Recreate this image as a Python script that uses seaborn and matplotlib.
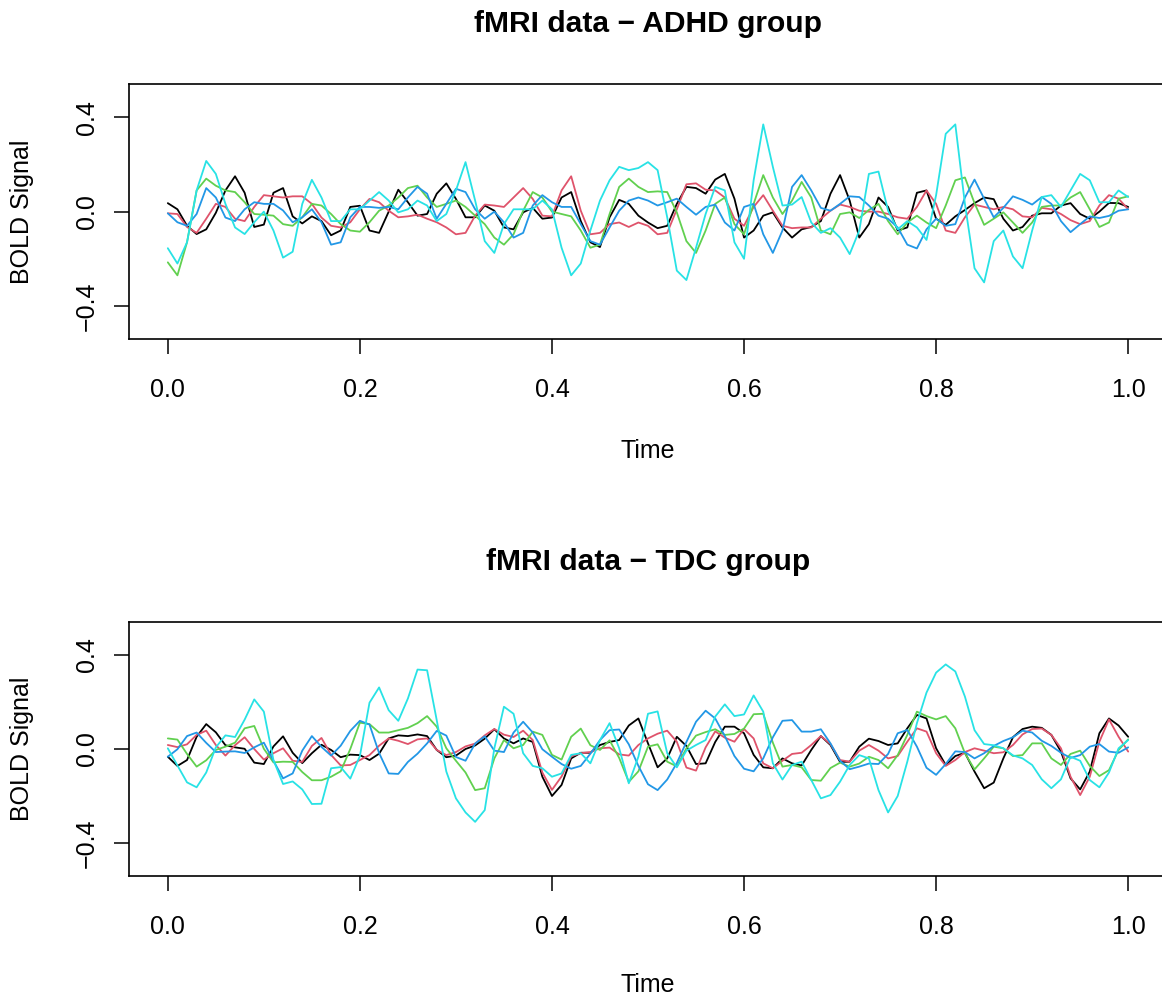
import numpy as np
import pandas as pd
import matplotlib
matplotlib.use("Agg")
import matplotlib.pyplot as plt
import seaborn as sns

# time grid shared by every curve
time = np.round(np.arange(0, 101) * 0.01, 2)

series_names = ["s1", "s2", "s3", "s4", "s5"]
line_colors = ["#000000", "#DF536B", "#61D04F", "#2297E6", "#28E2E5"]

# ADHD group
adhd_s1 = [0.036, 0.01, -0.06, -0.095, -0.075, -0.005, 0.09, 0.15, 0.08, -0.065, -0.055, 0.08, 0.10, -0.02, -0.05, -0.02, -0.04, -0.10, -0.08, 0.02, 0.025,
           -0.08, -0.09, 0.0, 0.093, 0.04, -0.017, -0.01, 0.076, 0.12, 0.054, -0.024, -0.024, 0.026, 0.004, -0.067, -0.075, -0.003, 0.016, -0.03, -0.025,
           0.06, 0.083, -0.04, -0.13, -0.15, -0.024, 0.05, 0.033, -0.017, -0.046, -0.07, -0.06, 0.033, 0.105, 0.1, 0.076, 0.136, 0.16, 0.055,
           -0.11, -0.08, -0.017, -0.003, -0.067, -0.11, -0.075, -0.065, -0.04, 0.076, 0.155, 0.047, -0.11, -0.053, 0.06, 0.02, -0.08, -0.067, 0.08, 0.09,
           -0.03, -0.056, -0.02, 0.007, 0.036, 0.06, 0.053, -0.03, -0.08, -0.065, -0.017, -0.007, -0.007, 0.026, 0.036, -0.01, -0.03, 0.0, 0.037, 0.036, 0.02]
adhd_s2 = [-0.007, -0.01, -0.065, -0.09, -0.03, 0.033, 0.02, -0.03, -0.04, 0.02, 0.07, 0.065, 0.06, 0.065, 0.065, 0.033, -0.025, -0.06, -0.067, -0.045, 0.01,
           0.054, 0.04, 0.004, -0.024, -0.02, -0.013, -0.03, -0.045, -0.067, -0.096, -0.09, -0.017, 0.03, 0.026, 0.02, 0.06, 0.1, 0.054, -0.017, -0.02,
           0.09, 0.15, 0.004, -0.096, -0.09, -0.053, -0.046, -0.065, -0.046, -0.06, -0.096, -0.09, 0.01, 0.116, 0.12, 0.093, 0.09, 0.06, -0.03,
           -0.06, 0.02, 0.07, 0.004, -0.06, -0.07, -0.067, -0.067, -0.03, 0.004, 0.03, 0.02, 0.004, 0.0, 0.0, -0.01, -0.024, -0.03, 0.02, 0.09,
           0.033, -0.08, -0.09, -0.024, 0.03, 0.02, 0.01, 0.02, 0.01, -0.02, -0.024, 0.016, 0.01, -0.01, -0.036, -0.053, -0.04, 0.026, 0.07, 0.055, 0.01]
adhd_s3 = [-0.215, -0.27, -0.13, 0.09, 0.14, 0.11, 0.09, 0.083, 0.04, -0.01, -0.013, -0.017, -0.053, -0.06, -0.024, 0.033, 0.026, -0.01, -0.053, -0.08, -0.085,
           -0.045, 0.004, 0.026, 0.06, 0.1, 0.11, 0.06, 0.02, 0.033, 0.047, 0.02, -0.017, -0.053, -0.11, -0.14, -0.096, 0.004, 0.083, 0.06, 0.0,
           -0.01, -0.02, -0.08, -0.153, -0.14, -0.01, 0.105, 0.14, 0.105, 0.083, 0.086, 0.083, -0.003, -0.125, -0.175, -0.08, 0.033, 0.06, -0.053,
           -0.096, 0.033, 0.155, 0.06, -0.01, 0.047, 0.126, 0.06, -0.08, -0.096, -0.01, -0.003, -0.027, 0.007, 0.033, -0.04, -0.096, -0.046, -0.017, -0.046,
           -0.07, 0.026, 0.133, 0.145, 0.036, -0.056, -0.03, -0.003, -0.046, -0.09, -0.046, 0.02, 0.026, 0.026, 0.06, 0.083, 0.01, -0.065, -0.046, 0.055, 0.065]
adhd_s4 = [-0.007, -0.045, -0.06, -0.01, 0.10, 0.06, -0.025, -0.04, 0.01, 0.04, 0.033, 0.033, 0.005, -0.045, -0.024, 0.01, -0.045, -0.14, -0.13, -0.024, 0.02,
           0.02, 0.016, 0.02, 0.01, 0.06, 0.105, 0.076, -0.03, 0.033, 0.097, 0.083, 0.01, -0.03, 0.0, -0.045, -0.11, -0.09, 0.026, 0.07, 0.04,
           0.02, 0.02, -0.053, -0.125, -0.14, -0.067, 0.004, 0.047, 0.06, 0.047, 0.026, 0.04, 0.055, 0.02, -0.013, 0.02, 0.03, -0.046, -0.08,
           0.02, 0.033, -0.096, -0.175, -0.08, 0.105, 0.155, 0.09, 0.016, 0.004, 0.033, 0.065, 0.062, 0.026, -0.017, -0.03, -0.067, -0.14, -0.156, -0.075,
           -0.03, -0.06, -0.053, 0.06, 0.136, 0.055, -0.024, 0.016, 0.065, 0.05, 0.03, 0.062, 0.033, -0.04, -0.087, -0.053, -0.02, -0.027, -0.018, 0.004, 0.01]
adhd_s5 = [-0.155, -0.22, -0.13, 0.09, 0.215, 0.16, 0.033, -0.067, -0.095, -0.045, 0.0, -0.08, -0.195, -0.17, 0.033, 0.135, 0.06, -0.04, -0.04, 0.01, 0.01,
           0.047, 0.083, 0.047, -0.003, 0.01, 0.047, 0.026, -0.04, -0.01, 0.09, 0.21, 0.047, -0.125, -0.175, -0.053, 0.01, 0.01, 0.01, 0.047, 0.01,
           -0.153, -0.27, -0.22, -0.08, 0.047, 0.133, 0.19, 0.176, 0.185, 0.21, 0.176, -0.024, -0.25, -0.29, -0.153, -0.01, 0.105, 0.09, -0.13,
           -0.2, 0.133, 0.37, 0.19, 0.026, 0.03, 0.062, -0.046, -0.09, -0.07, -0.11, -0.18, -0.08, 0.16, 0.17, 0.004, -0.075, -0.04, -0.067, -0.12,
           0.07, 0.33, 0.37, 0.033, -0.24, -0.3, -0.125, -0.08, -0.19, -0.24, -0.08, 0.062, 0.07, 0.02, 0.09, 0.16, 0.133, 0.04, 0.04, 0.09, 0.062]

# TDC group
tdc_s1 = [-0.033, -0.072, -0.047, 0.052, 0.106, 0.071, 0.016, 0.007, 0.001, -0.058, -0.064, 0.011, 0.054, -0.016, -0.06, -0.018, 0.018, -0.004, -0.035, -0.024, -0.026,
          -0.047, -0.02, 0.045, 0.058, 0.055, 0.062, 0.055, -0.004, -0.035, -0.028, 0.0, 0.015, 0.044, 0.084, 0.045, 0.024, 0.045, 0.03, -0.118, -0.2,
          -0.153, -0.04, -0.016, -0.016, 0.017, 0.03, 0.038, 0.1, 0.13, 0.024, -0.078, -0.04, 0.052, 0.013, -0.064, -0.061, 0.03, 0.095, 0.095,
          0.067, -0.025, -0.078, -0.082, -0.04, -0.061, -0.07, -0.004, 0.055, 0.017, -0.055, -0.054, 0.01, 0.044, 0.034, 0.017, 0.024, 0.088, 0.145, 0.13,
          0.003, -0.068, -0.03, -0.016, -0.096, -0.167, -0.143, -0.04, 0.05, 0.085, 0.095, 0.09, 0.06, -0.011, -0.125, -0.172, -0.096, 0.067, 0.13, 0.1, 0.052]
tdc_s2 = [0.017, 0.008, 0.02, 0.06, 0.078, 0.017, -0.028, 0.016, 0.05, 0.0, -0.045, -0.018, 0.003, -0.05, -0.055, 0.013, 0.047, -0.025, -0.07, -0.068, -0.047,
          -0.026, 0.014, 0.045, 0.035, 0.021, 0.041, 0.045, -0.004, -0.026, -0.013, 0.011, 0.023, 0.058, 0.085, 0.061, 0.051, 0.078, 0.038, -0.1, -0.174,
          -0.117, -0.031, -0.018, -0.013, 0.003, 0.006, -0.023, -0.028, 0.017, 0.045, 0.065, 0.078, 0.031, -0.079, -0.092, 0.007, 0.075, 0.048, 0.031,
          0.085, 0.045, -0.061, -0.082, -0.05, -0.021, -0.016, 0.017, 0.055, 0.021, -0.047, -0.054, -0.007, 0.017, -0.007, -0.04, -0.03, 0.031, 0.088, 0.074,
          -0.018, -0.072, -0.047, -0.013, 0.003, -0.007, -0.018, -0.014, 0.017, 0.062, 0.085, 0.087, 0.06, 0.003, -0.118, -0.196, -0.118, 0.031, 0.126, 0.052, -0.011]
tdc_s3 = [0.045, 0.04, -0.021, -0.075, -0.048, -0.004, 0.01, 0.027, 0.088, 0.098, 0.001, -0.057, -0.054, -0.055, -0.098, -0.133, -0.133, -0.118, -0.095, 0.0, 0.112,
          0.106, 0.07, 0.07, 0.08, 0.09, 0.11, 0.14, 0.095, 0.003, -0.05, -0.1, -0.175, -0.167, -0.04, 0.038, 0.003, 0.017, 0.074, 0.06, -0.025,
          -0.045, 0.052, 0.087, 0.016, -0.004, 0.037, -0.038, -0.14, -0.095, 0.01, 0.02, -0.054, -0.074, 0.003, 0.057, 0.072, 0.084, 0.06, 0.064,
          0.087, 0.148, 0.15, 0.027, -0.075, -0.068, -0.078, -0.132, -0.135, -0.081, -0.058, -0.075, -0.062, -0.033, -0.047, -0.082, -0.026, 0.06, 0.159, 0.14,
          0.126, 0.14, 0.088, -0.018, -0.087, -0.04, 0.01, 0.003, -0.03, -0.026, 0.024, 0.024, -0.04, -0.068, -0.021, -0.007, -0.072, -0.115, -0.09, -0.004, 0.041]
tdc_s4 = [-0.033, -0.001, 0.055, 0.07, 0.026, -0.013, -0.011, -0.01, -0.017, 0.007, 0.027, -0.05, -0.125, -0.104, -0.007, 0.055, 0.009, -0.028, 0.014, 0.077, 0.12,
          0.104, -0.017, -0.104, -0.106, -0.055, -0.02, 0.024, 0.077, 0.057, -0.034, -0.05, 0.023, 0.054, -0.007, -0.013, 0.07, 0.116, 0.07, -0.001, -0.033,
          -0.064, -0.084, -0.072, -0.02, 0.038, 0.08, 0.083, 0.02, -0.072, -0.15, -0.175, -0.13, -0.06, 0.03, 0.116, 0.163, 0.13, 0.055, -0.03,
          -0.084, -0.095, -0.04, 0.05, 0.12, 0.123, 0.074, 0.074, 0.084, 0.024, -0.05, -0.086, -0.075, -0.062, -0.064, -0.021, 0.067, 0.081, 0.01, -0.08,
          -0.11, -0.064, -0.01, -0.013, -0.04, -0.018, 0.013, 0.034, 0.05, 0.078, 0.07, 0.035, 0.013, -0.016, -0.038, -0.026, 0.01, 0.021, -0.011, -0.016, 0.007]
tdc_s5 = [0.003, -0.07, -0.142, -0.163, -0.1, 0.007, 0.058, 0.051, 0.125, 0.211, 0.159, -0.047, -0.149, -0.138, -0.172, -0.234, -0.233, -0.082, -0.077, -0.126, -0.03,
          0.197, 0.262, 0.165, 0.12, 0.215, 0.338, 0.335, 0.123, -0.096, -0.21, -0.27, -0.31, -0.26, 0.003, 0.18, 0.15, -0.018, -0.072, -0.082, -0.118,
          -0.104, -0.025, -0.018, -0.061, 0.038, 0.11, 0.003, -0.146, -0.033, 0.15, 0.16, -0.018, -0.078, -0.007, 0.017, 0.038, 0.138, 0.19, 0.14,
          0.147, 0.228, 0.159, -0.061, -0.13, -0.068, -0.054, -0.132, -0.21, -0.196, -0.139, -0.068, -0.026, -0.04, -0.175, -0.27, -0.2, -0.054, 0.11, 0.24,
          0.325, 0.36, 0.33, 0.223, 0.08, 0.021, 0.016, 0.003, -0.027, -0.04, -0.068, -0.129, -0.167, -0.129, -0.033, -0.05, -0.132, -0.163, -0.1, 0.003, 0.038]

groups = [
    ("fMRI data \u2212 ADHD group", [adhd_s1, adhd_s2, adhd_s3, adhd_s4, adhd_s5]),
    ("fMRI data \u2212 TDC group", [tdc_s1, tdc_s2, tdc_s3, tdc_s4, tdc_s5]),
]


def to_long(curves):
    frames = []
    for name, values in zip(series_names, curves):
        frames.append(pd.DataFrame({"time": time, "signal": values, "series": name}))
    return pd.concat(frames, ignore_index=True)


sns.set_theme(style="white")
plt.rcParams["font.family"] = ["Liberation Sans", "DejaVu Sans"]
plt.rcParams["text.color"] = "black"

W, H = 1162, 998
fig = plt.figure(figsize=(W / 100, H / 100), dpi=100)

# panel boxes in pixels: (left, top, right, bottom)
boxes = [(129.4, 84.3, 1166.6, 339.0), (129.4, 622.1, 1166.6, 875.9)]
offsets = [0.0, 537.8]

for (title, curves), (l, t, r, b), off in zip(groups, boxes, offsets):
    ax = fig.add_axes([l / W, 1 - b / H, (r - l) / W, (b - t) / H])
    df = to_long(curves)
    sns.lineplot(data=df, x="time", y="signal", hue="series", hue_order=series_names,
                 palette=line_colors, estimator=None, sort=False, legend=False,
                 linewidth=1.3, ax=ax)
    ax.set_xlim(-0.04, 1.04)
    ax.set_ylim(-0.54, 0.54)
    ax.set_xticks([0.0, 0.2, 0.4, 0.6, 0.8, 1.0])
    ax.set_xticklabels(["0.0", "0.2", "0.4", "0.6", "0.8", "1.0"])
    ax.set_yticks([-0.4, 0.0, 0.4])
    ax.set_yticklabels(["\u22120.4", "0.0", "0.4"], rotation=90, va="center")
    ax.set_xlabel("")
    ax.set_ylabel("")
    ax.tick_params(axis="both", direction="out", length=11, width=1.1,
                   labelsize=18, colors="black", bottom=True, left=True)
    ax.tick_params(axis="x", pad=17)
    ax.tick_params(axis="y", pad=11)
    for sp in ax.spines.values():
        sp.set_color("black")
        sp.set_linewidth(1.2)

    fig.text(648 / W, 1 - (32.3 + off) / H, title, ha="center", va="baseline",
             fontsize=21.6, fontweight="bold")
    time_base = min(458 + off, 992)
    fig.text(648 / W, 1 - time_base / H, "Time", ha="center", va="baseline",
             fontsize=18)
    fig.text(22 / W, 1 - ((t + b) / 2) / H, "BOLD Signal", rotation=90,
             ha="center", va="center", fontsize=18)

fig.savefig("out.png", dpi=100)
